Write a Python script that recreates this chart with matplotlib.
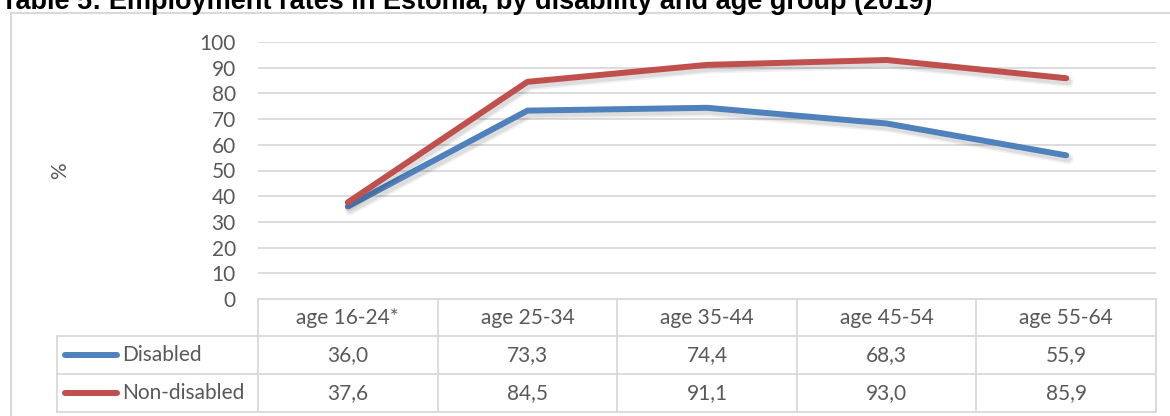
import matplotlib
matplotlib.use("Agg")
import matplotlib.pyplot as plt
import matplotlib.patheffects as pe
from matplotlib.transforms import blended_transform_factory
from matplotlib.lines import Line2D

# --- data -------------------------------------------------------------
age_groups = ["age 16-24*", "age 25-34", "age 35-44", "age 45-54", "age 55-64"]
disabled = [36.0, 73.3, 74.4, 68.3, 55.9]
non_disabled = [37.6, 84.5, 91.1, 93.0, 85.9]
series_names = ["Disabled", "Non-disabled"]
series_colors = ["#4F81BD", "#C0504D"]
title = "Table 5: Employment rates in Estonia, by disability and age group (2019)"
y_ticks = list(range(0, 101, 10))

TEXT = "#595959"
GRID = "#D9D9D9"
FONT = "Lato"

W, H = 1170, 416
fig = plt.figure(figsize=(W / 100, H / 100), dpi=100)

# plot area in pixel terms
left_px, right_px, top_px, bottom_px = 258, 1156, 42, 299
ax = fig.add_axes([left_px / W, 1 - bottom_px / H,
                   (right_px - left_px) / W, (bottom_px - top_px) / H])
ax_h = bottom_px - top_px

x = list(range(len(age_groups)))
# soft drop shadow under each line
shadow = [pe.SimpleLineShadow(offset=(1.5, -2.5), shadow_color="#000000",
                              alpha=0.06, linewidth=7.5),
          pe.SimpleLineShadow(offset=(1.5, -2.5), shadow_color="#000000",
                              alpha=0.08, linewidth=5.0),
          pe.Normal()]
for vals, col in zip([disabled, non_disabled], series_colors):
    ax.plot(x, vals, color=col, lw=4.3, solid_capstyle="round",
            solid_joinstyle="round", path_effects=shadow, zorder=3)

ax.set_xlim(-0.5, len(age_groups) - 0.5)
ax.set_ylim(0, 100)
ax.set_yticks(y_ticks)
ax.set_xticks([])
ax.yaxis.grid(True, color=GRID, lw=1.3)
ax.set_axisbelow(True)
for s in ax.spines.values():
    s.set_visible(False)
ax.tick_params(axis="y", length=0, pad=16, labelsize=15, labelcolor=TEXT)
for lab in ax.get_yticklabels():
    lab.set_fontfamily(FONT)

fig.text(60 / W, 1 - 171 / H, "%", rotation=90, ha="center", va="center",
         fontsize=15, color=TEXT, family=FONT)

# --- data table under the plot -----------------------------------------
tr = blended_transform_factory(ax.transData, ax.transAxes)
def ay(px):
    return (bottom_px - px) / ax_h

row_edges = [299, 336, 374, 412]
y_edges = [ay(p) for p in row_edges]
x0, x1 = -0.5, len(age_groups) - 0.5
col_w_px = (right_px - left_px) / len(age_groups)
def dx(px):
    return (px - left_px) / col_w_px - 0.5
legend_left = dx(57)

line_kw = dict(color=GRID, lw=1.3, transform=tr, clip_on=False, zorder=1)
# horizontal rules
ax.add_line(Line2D([x0, x1], [y_edges[0]] * 2, **line_kw))
for ye in y_edges[1:]:
    ax.add_line(Line2D([legend_left, x1], [ye] * 2, **line_kw))
# vertical rules
for k in range(len(age_groups) + 1):
    ax.add_line(Line2D([x0 + k] * 2, [y_edges[0], y_edges[-1]], **line_kw))
ax.add_line(Line2D([legend_left] * 2, [y_edges[1], y_edges[-1]], **line_kw))

txt_kw = dict(transform=tr, ha="center", va="center", fontsize=15,
              color=TEXT, family=FONT, clip_on=False)
hdr_y = (y_edges[0] + y_edges[1]) / 2
for i, g in enumerate(age_groups):
    ax.text(i, hdr_y, g, **txt_kw)

for r, (name, col, vals) in enumerate(zip(series_names, series_colors,
                                          [disabled, non_disabled])):
    yc = (y_edges[r + 1] + y_edges[r + 2]) / 2
    ax.add_line(Line2D([dx(65), dx(117)], [yc, yc], color=col, lw=4.3,
                       solid_capstyle="round", transform=tr, clip_on=False))
    ax.text(dx(122), yc, name, transform=tr, ha="left", va="center",
            fontsize=15, color=TEXT, family=FONT, clip_on=False)
    for i, v in enumerate(vals):
        ax.text(i, yc, f"{v:.1f}".replace(".", ","), **txt_kw)

# --- chart frame and title ----------------------------------------------
frame_kw = dict(color=GRID, lw=1.5, transform=fig.transFigure)
fig.add_artist(Line2D([11 / W, 1.01], [1 - 13 / H] * 2, **frame_kw))
fig.add_artist(Line2D([11 / W] * 2, [1 - 13 / H, -0.01], **frame_kw))

fig.text(1 / W, 1 - 9 / H, title, ha="left", va="baseline",
         fontsize=19.5, fontweight="bold", family="Liberation Sans", color="#000000")

fig.savefig("out.png", dpi=100)
